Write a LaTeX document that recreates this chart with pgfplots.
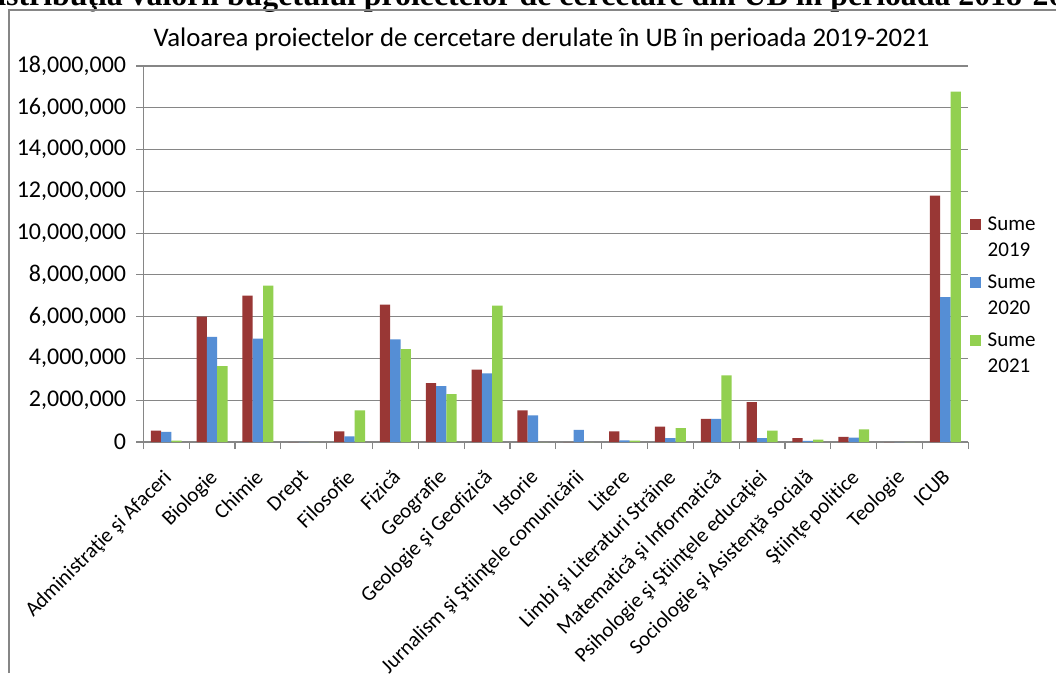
\documentclass[border=0pt]{standalone}
\usepackage{pgfplots}
\usepackage{pgfplotstable}
\pgfplotsset{compat=1.18}
\usepackage{fontspec}
\setmainfont[Ligatures=NoCommon]{Carlito}
\newfontfamily\headfont{Liberation Serif}
\definecolor{c19}{RGB}{153,55,53}
\definecolor{c20}{RGB}{85,142,213}
\definecolor{c21}{RGB}{146,208,80}
\definecolor{axgray}{RGB}{134,134,134}

\pgfplotstableread{
x y19 y20 y21
0 550000 480000 70000
1 6000000 5030000 3630000
2 7010000 4950000 7490000
3 0 0 0
4 510000 270000 1520000
5 6580000 4910000 4450000
6 2820000 2670000 2290000
7 3470000 3280000 6530000
8 1520000 1270000 0
9 0 580000 0
10 510000 80000 70000
11 740000 180000 660000
12 1110000 1110000 3190000
13 1910000 180000 540000
14 180000 50000 110000
15 240000 210000 610000
16 0 0 0
17 11800000 6930000 16770000
}\data

\begin{document}
\begin{tikzpicture}[x=1pt,y=1pt]
\useasboundingbox (0,0) rectangle (1056,673);
\clip (0,0) rectangle (1056,673);
\fill[white] (0,0) rectangle (1056,673);
\node[anchor=base west, inner sep=0pt, font=\headfont\bfseries\fontsize{31.8}{36}\selectfont] at (6,667) {\llap{Di}stribuţia valorii bugetului proiectelor de cercetare din UB în perioada 2018-2021};
\draw[axgray, line width=1.2pt] (9,0) -- (9,663) -- (1057,663);
\begin{axis}[
  at={(143.3pt,231pt)}, anchor=south west,
  scale only axis, width=825pt, height=376pt,
  ybar=0pt, bar width=10.3pt,
  xmin=-0.5, xmax=17.5, ymin=0, ymax=18000000,
  axis x line*=bottom, axis y line*=left,
  axis line style={axgray, line width=1.2pt, -},
  xtick={0,...,17},
  xticklabels={Administraţie şi Afaceri, Biologie, Chimie, Drept, Filosofie, Fizică, Geografie, Geologie şi Geofizică, Istorie, Jurnalism şi Ştiinţele comunicării, Litere, Limbi şi Literaturi Străine, Matematică şi Informatică, Psihologie şi Ştiinţele educaţiei, Sociologie şi Asistenţă socială, Ştiinţe politice, Teologie, ICUB},
  minor xtick={-0.5,0.5,...,17.5},
  major x tick style={draw=none},
  minor x tick style={axgray, line width=1.2pt},
  ytick={0,2000000,4000000,6000000,8000000,10000000,12000000,14000000,16000000,18000000},
  yticklabels={0,{2,000,000},{4,000,000},{6,000,000},{8,000,000},{10,000,000},{12,000,000},{14,000,000},{16,000,000},{18,000,000}},
  scaled y ticks=false,
  y tick style={axgray, line width=1.2pt},
  tick align=outside, major tick length=7pt, minor tick length=7pt,
  ymajorgrids, grid style={axgray, line width=1.2pt},
  yticklabel style={font=\fontsize{24}{28}\selectfont, anchor=east, inner sep=0pt, xshift=-10pt},
  xticklabel style={font=\fontsize{21}{25}\selectfont, xshift=-4pt, yshift=-19pt, rotate=45, anchor=north east, inner sep=0pt},
  title={Valoarea proiectelor de cercetare derulate în UB în perioada 2019-2021},
  title style={font=\fontsize{26.8}{30}\selectfont, anchor=base, at={(0.4827,1.0346)}, inner sep=0pt},
  legend style={at={(1.0015,0.604)}, anchor=north west, draw=none, fill=none, inner sep=0pt,
    font=\fontsize{21}{26}\selectfont, cells={anchor=west, align=left}, row sep=13pt,
    /tikz/every odd column/.append style={column sep=5pt}},
  legend image code/.code={\path[draw=none,fill=none] (0pt,-18.5pt) rectangle (11pt,18.5pt);\fill[#1] (0pt,7.5pt) rectangle (11pt,18.5pt);},
]
\addplot[fill=c19, draw=none] table[x=x, y=y19] {\data};
\addplot[fill=c20, draw=none] table[x=x, y=y20] {\data};
\addplot[fill=c21, draw=none] table[x=x, y=y21] {\data};
\addlegendentry{Sume\\2019}
\addlegendentry{Sume\\2020}
\addlegendentry{Sume\\2021}
\end{axis}
\end{tikzpicture}
\end{document}
